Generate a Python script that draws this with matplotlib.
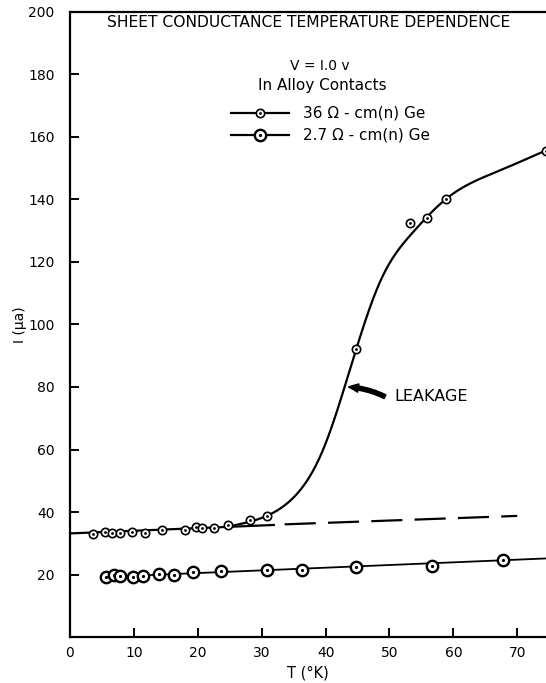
import numpy as np
import matplotlib
matplotlib.use("Agg")
import matplotlib.pyplot as plt

# 36 ohm-cm (n) Ge, small markers
t_36 = [3.65, 5.5, 6.6, 7.8, 9.75, 11.7, 14.45, 18.0, 19.7, 20.7, 22.6, 24.7, 28.2, 30.8,
        44.8, 53.2, 55.9, 58.8, 74.5]
i_36 = [32.9, 33.7, 33.3, 33.3, 33.7, 33.2, 34.2, 34.2, 35.3, 34.9, 34.9, 36.0, 37.5, 38.8,
        92.1, 132.3, 134.1, 140.2, 155.5]

# 2.7 ohm-cm (n) Ge, large markers
t_27 = [5.6, 6.9, 7.9, 9.8, 11.4, 14.0, 16.2, 19.3, 23.7, 30.8, 36.3, 44.7, 56.6, 67.8]
i_27 = [19.2, 19.9, 19.6, 19.3, 19.7, 20.1, 19.8, 20.9, 21.3, 21.5, 21.4, 22.4, 22.9, 24.7]

# hand-drawn curves
base_t = [0, 31.9]
base_i = [33.2, 35.9]
dash_t = [33.6, 70.0]
dash_i = [36.1, 38.8]
leak_t = [25.5, 30.9, 34.9, 39.6, 44.8, 48.5, 53.7, 58.8, 66.8, 74.5]
leak_i = [35.7, 38.9, 44.5, 59.9, 92.1, 113.5, 129.5, 140.0, 148.8, 155.6]
fit27_t = [5.6, 74.5]
fit27_i = [19.3, 25.2]

x_ticks = [0, 10, 20, 30, 40, 50, 60, 70]
y_ticks = [20, 40, 60, 80, 100, 120, 140, 160, 180, 200]


def spline(xs, ys, n=400):
    # natural cubic spline through the read points (smooth pen curve)
    x = np.asarray(xs, float)
    y = np.asarray(ys, float)
    h = np.diff(x)
    d = np.diff(y) / h
    N = len(x)
    A = np.zeros((N, N))
    b = np.zeros(N)
    A[0, 0] = A[-1, -1] = 1
    for i in range(1, N - 1):
        A[i, i - 1] = h[i - 1]
        A[i, i] = 2 * (h[i - 1] + h[i])
        A[i, i + 1] = h[i]
        b[i] = 6 * (d[i] - d[i - 1])
    M = np.linalg.solve(A, b)
    xx = np.linspace(x[0], x[-1], n)
    k = np.clip(np.searchsorted(x, xx) - 1, 0, N - 2)
    hk = h[k]
    a = x[k + 1] - xx
    c = xx - x[k]
    yy = (M[k] * a ** 3 + M[k + 1] * c ** 3) / (6 * hk) \
        + (y[k] / hk - M[k] * hk / 6) * a + (y[k + 1] / hk - M[k + 1] * hk / 6) * c
    return xx, yy


def dot_marker(ax, x, y, size, ew, dot, **kw):
    ax.plot(x, y, 'o', ms=size, mfc='white', mec='black', mew=ew, zorder=4, **kw)
    ax.plot(x, y, 'o', ms=dot, mfc='black', mec='black', mew=0, zorder=5, **kw)


plt.rcParams['font.family'] = ['DejaVu Sans']
fig = plt.figure(figsize=(5.46, 6.83), dpi=100)
ax = fig.add_axes([70 / 546, 45.7 / 683, 476 / 546, 625.8 / 683])

ax.plot(base_t, base_i, color='black', lw=1.6, zorder=3)
ax.plot(dash_t, dash_i, color='black', lw=1.6, dashes=(14, 5.5), zorder=3)
lx, ly = spline(leak_t, leak_i)
ax.plot(lx, ly, color='black', lw=1.6, zorder=3, clip_on=False)
ax.plot(fit27_t, fit27_i, color='black', lw=1.3, zorder=3)

small = (6.0, 1.2, 2.0)
big = (8.2, 1.7, 2.3)
dot_marker(ax, t_36, i_36, *small, clip_on=False)
dot_marker(ax, t_27, i_27, *big)

ax.set_xlim(0, 74.5)
ax.set_ylim(0, 200)
ax.set_xticks(x_ticks)
ax.set_yticks(y_ticks)
ax.tick_params(axis='both', direction='in', length=6.5, width=1.4, labelsize=10)
ax.tick_params(axis='x', pad=6)
ax.tick_params(axis='y', pad=11)
ax.spines['right'].set_visible(False)
for s in ['left', 'bottom', 'top']:
    ax.spines[s].set_linewidth(1.6)

ax.set_xlabel('T (°K)', fontsize=10.5, labelpad=4)
ax.set_ylabel('I (μa)', fontsize=10, labelpad=1)

ax.text(0.502, 0.983, 'SHEET CONDUCTANCE TEMPERATURE DEPENDENCE', transform=ax.transAxes,
        ha='center', va='center', fontsize=11.2)
ax.text(0.525, 0.913, 'V = I.0 v', transform=ax.transAxes, ha='center', va='center', fontsize=10)
ax.text(0.53, 0.881, 'In Alloy Contacts', transform=ax.transAxes, ha='center', va='center',
        fontsize=11)

# legend drawn by hand
leg_rows = [(0.838, '36 Ω - cm(n) Ge', small), (0.803, '2.7 Ω - cm(n) Ge', big)]
for yy, lab, (ms, ew, dd) in leg_rows:
    ax.plot([0.339, 0.46], [yy, yy], color='black', lw=1.6, transform=ax.transAxes)
    ax.plot([0.40], [yy], 'o', ms=ms, mfc='white', mec='black', mew=ew, transform=ax.transAxes)
    ax.plot([0.40], [yy], 'o', ms=dd, mfc='black', mew=0, transform=ax.transAxes)
    ax.text(0.49, yy, lab, transform=ax.transAxes, ha='left', va='center', fontsize=11)

ax.annotate('', xy=(43.6, 80.0), xytext=(49.3, 76.9),
            arrowprops=dict(arrowstyle='simple,head_length=0.7,head_width=0.6,tail_width=0.3',
                            color='black', connectionstyle='arc3,rad=0.1', shrinkA=0, shrinkB=0))
ax.text(50.7, 76.9, 'LEAKAGE', ha='left', va='center', fontsize=11.5)

fig.savefig('out.png', dpi=100)
